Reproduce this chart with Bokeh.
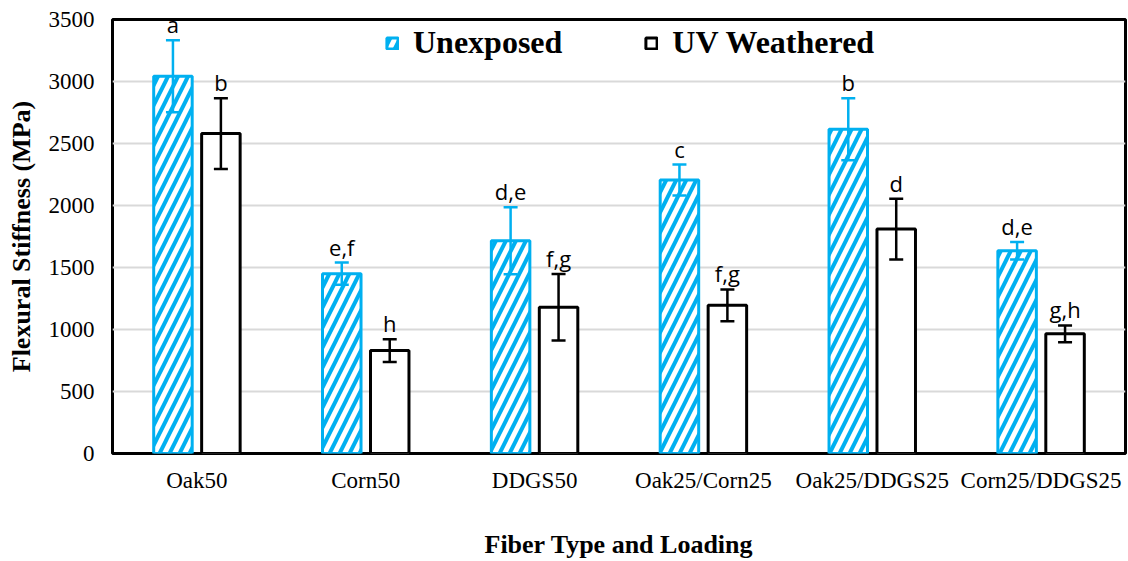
from bokeh.plotting import figure
from bokeh.models import ColumnDataSource, Whisker, TeeHead, FactorRange, Legend, LegendItem
from bokeh.transform import dodge
from bokeh.embed import file_html
from bokeh.resources import INLINE

# Flexural stiffness by fiber type and loading
categories = ["Oak50", "Corn50", "DDGS50", "Oak25/Corn25", "Oak25/DDGS25", "Corn25/DDGS25"]
unexposed = [3042, 1450, 1715, 2205, 2615, 1635]
unexposed_err = [290, 90, 270, 125, 250, 70]
uv_weathered = [2580, 830, 1180, 1195, 1810, 965]
uv_err = [285, 92, 268, 128, 245, 68]
unexposed_letters = ["a", "e,f", "d,e", "c", "b", "d,e"]
uv_letters = ["b", "h", "f,g", "f,g", "d", "g,h"]
y_ticks = [0, 500, 1000, 1500, 2000, 2500, 3000, 3500]

BLUE = "#00B0F0"

src_u = ColumnDataSource(dict(
    cat=categories, val=unexposed,
    up=[v + e for v, e in zip(unexposed, unexposed_err)],
    lo=[v - e for v, e in zip(unexposed, unexposed_err)],
    lab=unexposed_letters,
))
src_w = ColumnDataSource(dict(
    cat=categories, val=uv_weathered,
    up=[v + e for v, e in zip(uv_weathered, uv_err)],
    lo=[v - e for v, e in zip(uv_weathered, uv_err)],
    lab=uv_letters,
))

p = figure(
    width=1128, height=561,
    x_range=FactorRange(*categories, range_padding=0),
    y_range=(0, 3500),
    output_backend="svg", toolbar_location=None,
    min_border_left=112, min_border_right=3, min_border_top=19, min_border_bottom=107,
)
p.x_range.range_padding = 0

off = 0.142
bw = 0.228

r_u = p.vbar(x=dodge("cat", -off, range=p.x_range), top="val", width=bw, source=src_u,
             fill_color="white", line_color=BLUE, line_width=3,
             hatch_pattern="/", hatch_color=BLUE, hatch_scale=20, hatch_weight=4)
r_w = p.vbar(x=dodge("cat", off, range=p.x_range), top="val", width=bw, source=src_w,
             fill_color="white", line_color="black", line_width=3)

for src, dx, col in ((src_u, -off, BLUE), (src_w, off, "black")):
    w = Whisker(base=dodge("cat", dx, range=p.x_range), upper="up", lower="lo", source=src,
                line_color=col, line_width=2.5, level="annotation",
                upper_head=TeeHead(size=14, line_color=col, line_width=2.5),
                lower_head=TeeHead(size=14, line_color=col, line_width=2.5))
    p.add_layout(w)
    p.text(x=dodge("cat", dx, range=p.x_range), y="up", text="lab", source=src,
           text_align="center", text_baseline="bottom", y_offset=-1,
           text_font={"value": "Open Sans"}, text_font_size="22px", text_color="black")

legend = Legend(items=[LegendItem(label="Unexposed", renderers=[r_u]),
                       LegendItem(label="UV Weathered", renderers=[r_w])],
                orientation="horizontal", location=(273, 392),
                label_text_font="Liberation Serif", label_text_font_style="bold",
                label_text_font_size="32px", label_text_color="black", label_standoff=14,
                glyph_width=14, glyph_height=14, spacing=82,
                padding=0, margin=0, border_line_color=None, background_fill_alpha=0)
p.add_layout(legend, "center")

p.outline_line_color = "black"
p.outline_line_width = 3

p.xgrid.grid_line_color = None
p.ygrid.grid_line_color = "#d9d9d9"
p.ygrid.grid_line_width = 2
p.yaxis.ticker = y_ticks

for ax in (p.xaxis, p.yaxis):
    ax.axis_line_color = None
    ax.major_tick_line_color = None
    ax.minor_tick_line_color = None
    ax.major_tick_out = 0
    ax.major_tick_in = 0
    ax.major_label_text_font = "Liberation Serif"
    ax.major_label_text_font_size = "23px"
    ax.major_label_text_color = "black"
    ax.axis_label_text_font = "Liberation Serif"
    ax.axis_label_text_font_style = "bold"
    ax.axis_label_text_font_size = "26px"
    ax.axis_label_text_color = "black"

p.yaxis.axis_label = "Flexural Stiffness (MPa)"
p.yaxis.major_label_standoff = 18
p.yaxis.axis_label_standoff = 10
p.xaxis.axis_label = "Fiber Type and Loading"
p.xaxis.major_label_standoff = 14
p.xaxis.axis_label_standoff = 34

open("out.html", "w").write(file_html(p, INLINE))
